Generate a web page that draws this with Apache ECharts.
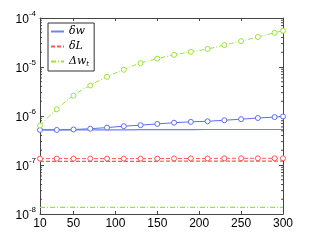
<!DOCTYPE html>
<html><head><meta charset="utf-8">
<script src="https://cdn.jsdelivr.net/npm/echarts@6/dist/echarts.min.js"></script>
<style>html,body{margin:0;padding:0;background:#fff}#c{width:312px;height:242px}</style>
</head><body><div id="c"></div>
<script>
const xTicks = [10, 50, 100, 150, 200, 250, 300];
const xs = [10, 30, 50, 70, 90, 110, 130, 150, 170, 190, 210, 230, 250, 270, 290, 300];
const blueMarked = [5.2e-7, 5.2e-7, 5.3e-7, 5.5e-7, 5.8e-7, 6.2e-7, 6.5e-7, 6.9e-7, 7.3e-7, 7.6e-7, 7.8e-7, 8.2e-7, 8.6e-7, 9.1e-7, 9.5e-7, 9.8e-7];
const blueFlat = [5.2e-7, 5.2e-7, 5.2e-7, 5.2e-7, 5.2e-7, 5.2e-7, 5.25e-7, 5.25e-7, 5.25e-7, 5.25e-7, 5.3e-7, 5.3e-7, 5.3e-7, 5.3e-7, 5.3e-7, 5.3e-7];
const redMarked = [1.35e-7, 1.35e-7, 1.35e-7, 1.35e-7, 1.35e-7, 1.35e-7, 1.35e-7, 1.35e-7, 1.36e-7, 1.36e-7, 1.36e-7, 1.37e-7, 1.37e-7, 1.37e-7, 1.37e-7, 1.37e-7];
const redFlat = [1.19e-7, 1.19e-7, 1.19e-7, 1.19e-7, 1.19e-7, 1.19e-7, 1.19e-7, 1.19e-7, 1.2e-7, 1.2e-7, 1.2e-7, 1.2e-7, 1.2e-7, 1.2e-7, 1.2e-7, 1.2e-7];
const greenMarked = [6.4e-7, 1.37e-6, 2.6e-6, 4.2e-6, 6.3e-6, 8.8e-6, 1.2e-5, 1.48e-5, 1.77e-5, 2.04e-5, 2.34e-5, 2.8e-5, 3.37e-5, 4.1e-5, 5.0e-5, 5.5e-5];
const greenFlat = [1.37e-8, 1.37e-8, 1.37e-8, 1.37e-8, 1.37e-8, 1.37e-8, 1.37e-8, 1.37e-8, 1.37e-8, 1.37e-8, 1.37e-8, 1.37e-8, 1.37e-8, 1.37e-8, 1.37e-8, 1.37e-8];
const legendNames = ['δw', 'δL', 'Δw_t'];

const pair = (a) => xs.map((x, i) => [x, a[i]]);
const minorVals = [];
for (let e = -8; e < -4; e++) for (let k = 2; k <= 9; k++) minorVals.push([k * Math.pow(10, e)]);

const axisCol = '#444';
const blue = '#5c6ff0', blueL = '#6f82f5', red = '#ff5555', green = '#99e633';
const chart = echarts.init(document.getElementById('c'), null, {renderer: 'canvas'});
chart.setOption({
  animation: false,
  backgroundColor: '#fff',
  grid: {left: 40, right: 29, top: 18, bottom: 28},
  xAxis: [
    {type: 'value', min: 10, max: 300, position: 'bottom',
     axisLine: {lineStyle: {color: axisCol}},
     axisTick: {inside: true, length: 3, customValues: xTicks, lineStyle: {color: axisCol}},
     axisLabel: {customValues: xTicks, color: '#000', fontSize: 12, fontFamily: 'Liberation Sans', margin: 4},
     splitLine: {show: false}},
    {type: 'value', min: 10, max: 300, position: 'top',
     axisLine: {lineStyle: {color: axisCol}},
     axisTick: {inside: true, length: 3, customValues: xTicks, lineStyle: {color: axisCol}},
     axisLabel: {show: false}, splitLine: {show: false}}
  ],
  yAxis: [
    {type: 'log', logBase: 10, min: 1e-8, max: 1e-4, position: 'left',
     axisLine: {show: true, lineStyle: {color: axisCol}},
     axisTick: {show: true, inside: true, length: 4, lineStyle: {color: axisCol}},
     axisLabel: {margin: 4, color: '#000',
       formatter: v => '{b|10}{s|' + Math.round(Math.log10(v)) + '}',
       rich: {b: {fontSize: 12, fontFamily: 'Liberation Sans', color: '#000', lineHeight: 16, verticalAlign: 'bottom'},
              s: {fontSize: 8, fontFamily: 'Liberation Sans', color: '#000', verticalAlign: 'top', lineHeight: 16}}},
     splitLine: {show: false}},
    {type: 'log', logBase: 10, min: 1e-8, max: 1e-4, position: 'right',
     axisLine: {show: true, lineStyle: {color: axisCol}},
     axisTick: {show: true, inside: true, length: 4, lineStyle: {color: axisCol}},
     axisLabel: {show: false}, splitLine: {show: false}}
  ],
  legend: {
    data: legendNames, orient: 'vertical', left: 48, top: 23,
    backgroundColor: '#fff', borderColor: '#333', borderWidth: 1,
    padding: [3, 5, 3, 2], itemWidth: 13, itemHeight: 10, itemGap: 4,
    itemStyle: {opacity: 0},
    textStyle: {fontFamily: 'DejaVu Serif', fontStyle: 'italic', fontSize: 11, color: '#000',
      rich: {i: {fontFamily: 'DejaVu Serif', fontStyle: 'italic', fontSize: 11, color: '#000'},
             u: {fontFamily: 'DejaVu Serif', fontStyle: 'italic', fontSize: 7, color: '#000', verticalAlign: 'bottom', padding: [6,0,0,0]}}},
    formatter: n => n === 'Δw_t' ? '{i|Δw}{u|t}' : '{i|' + n + '}'
  },
  series: [
    {type: 'custom', xAxisIndex: 0, yAxisIndex: 0, silent: true, data: minorVals, z: 1,
     renderItem: (params, api) => {
       const v = api.value(0);
       const l = api.coord([10, v]);
       const r = api.coord([300, v]);
       return {type: 'group', children: [
         {type: 'line', shape: {x1: l[0], y1: l[1], x2: l[0] + 2, y2: l[1]}, style: {stroke: axisCol, lineWidth: 1}},
         {type: 'line', shape: {x1: r[0], y1: r[1], x2: r[0] - 2, y2: r[1]}, style: {stroke: axisCol, lineWidth: 1}}
       ]};
     }, encode: {y: 0}},
    {name: 'δw', type: 'line', data: pair(blueFlat), symbol: 'none', lineStyle: {color: blueL, width: 1.2}, itemStyle: {color: blueL}},
    {name: 'δwm', type: 'line', data: pair(blueMarked), symbol: 'circle', symbolSize: 5, lineStyle: {color: blue, width: 1}, itemStyle: {color: '#fff', borderColor: blue, borderWidth: 1}},
    {name: 'δL', type: 'line', data: pair(redFlat), symbol: 'none', lineStyle: {color: red, width: 1.2, type: [4, 2]}, itemStyle: {color: red}},
    {name: 'δLm', type: 'line', data: pair(redMarked), symbol: 'circle', symbolSize: 5, lineStyle: {color: red, width: 1, type: [4, 2]}, itemStyle: {color: '#fff', borderColor: red, borderWidth: 1}},
    {name: 'Δw_t', type: 'line', data: pair(greenFlat), symbol: 'none', lineStyle: {color: green, width: 1.2, type: [5, 2, 1, 2]}, itemStyle: {color: green}},
    {name: 'Δw_tm', type: 'line', data: pair(greenMarked), symbol: 'circle', symbolSize: 5, smooth: true, lineStyle: {color: green, width: 1, type: [5, 2, 1, 2]}, itemStyle: {color: '#fff', borderColor: green, borderWidth: 1}}
  ]
});
</script></body></html>
